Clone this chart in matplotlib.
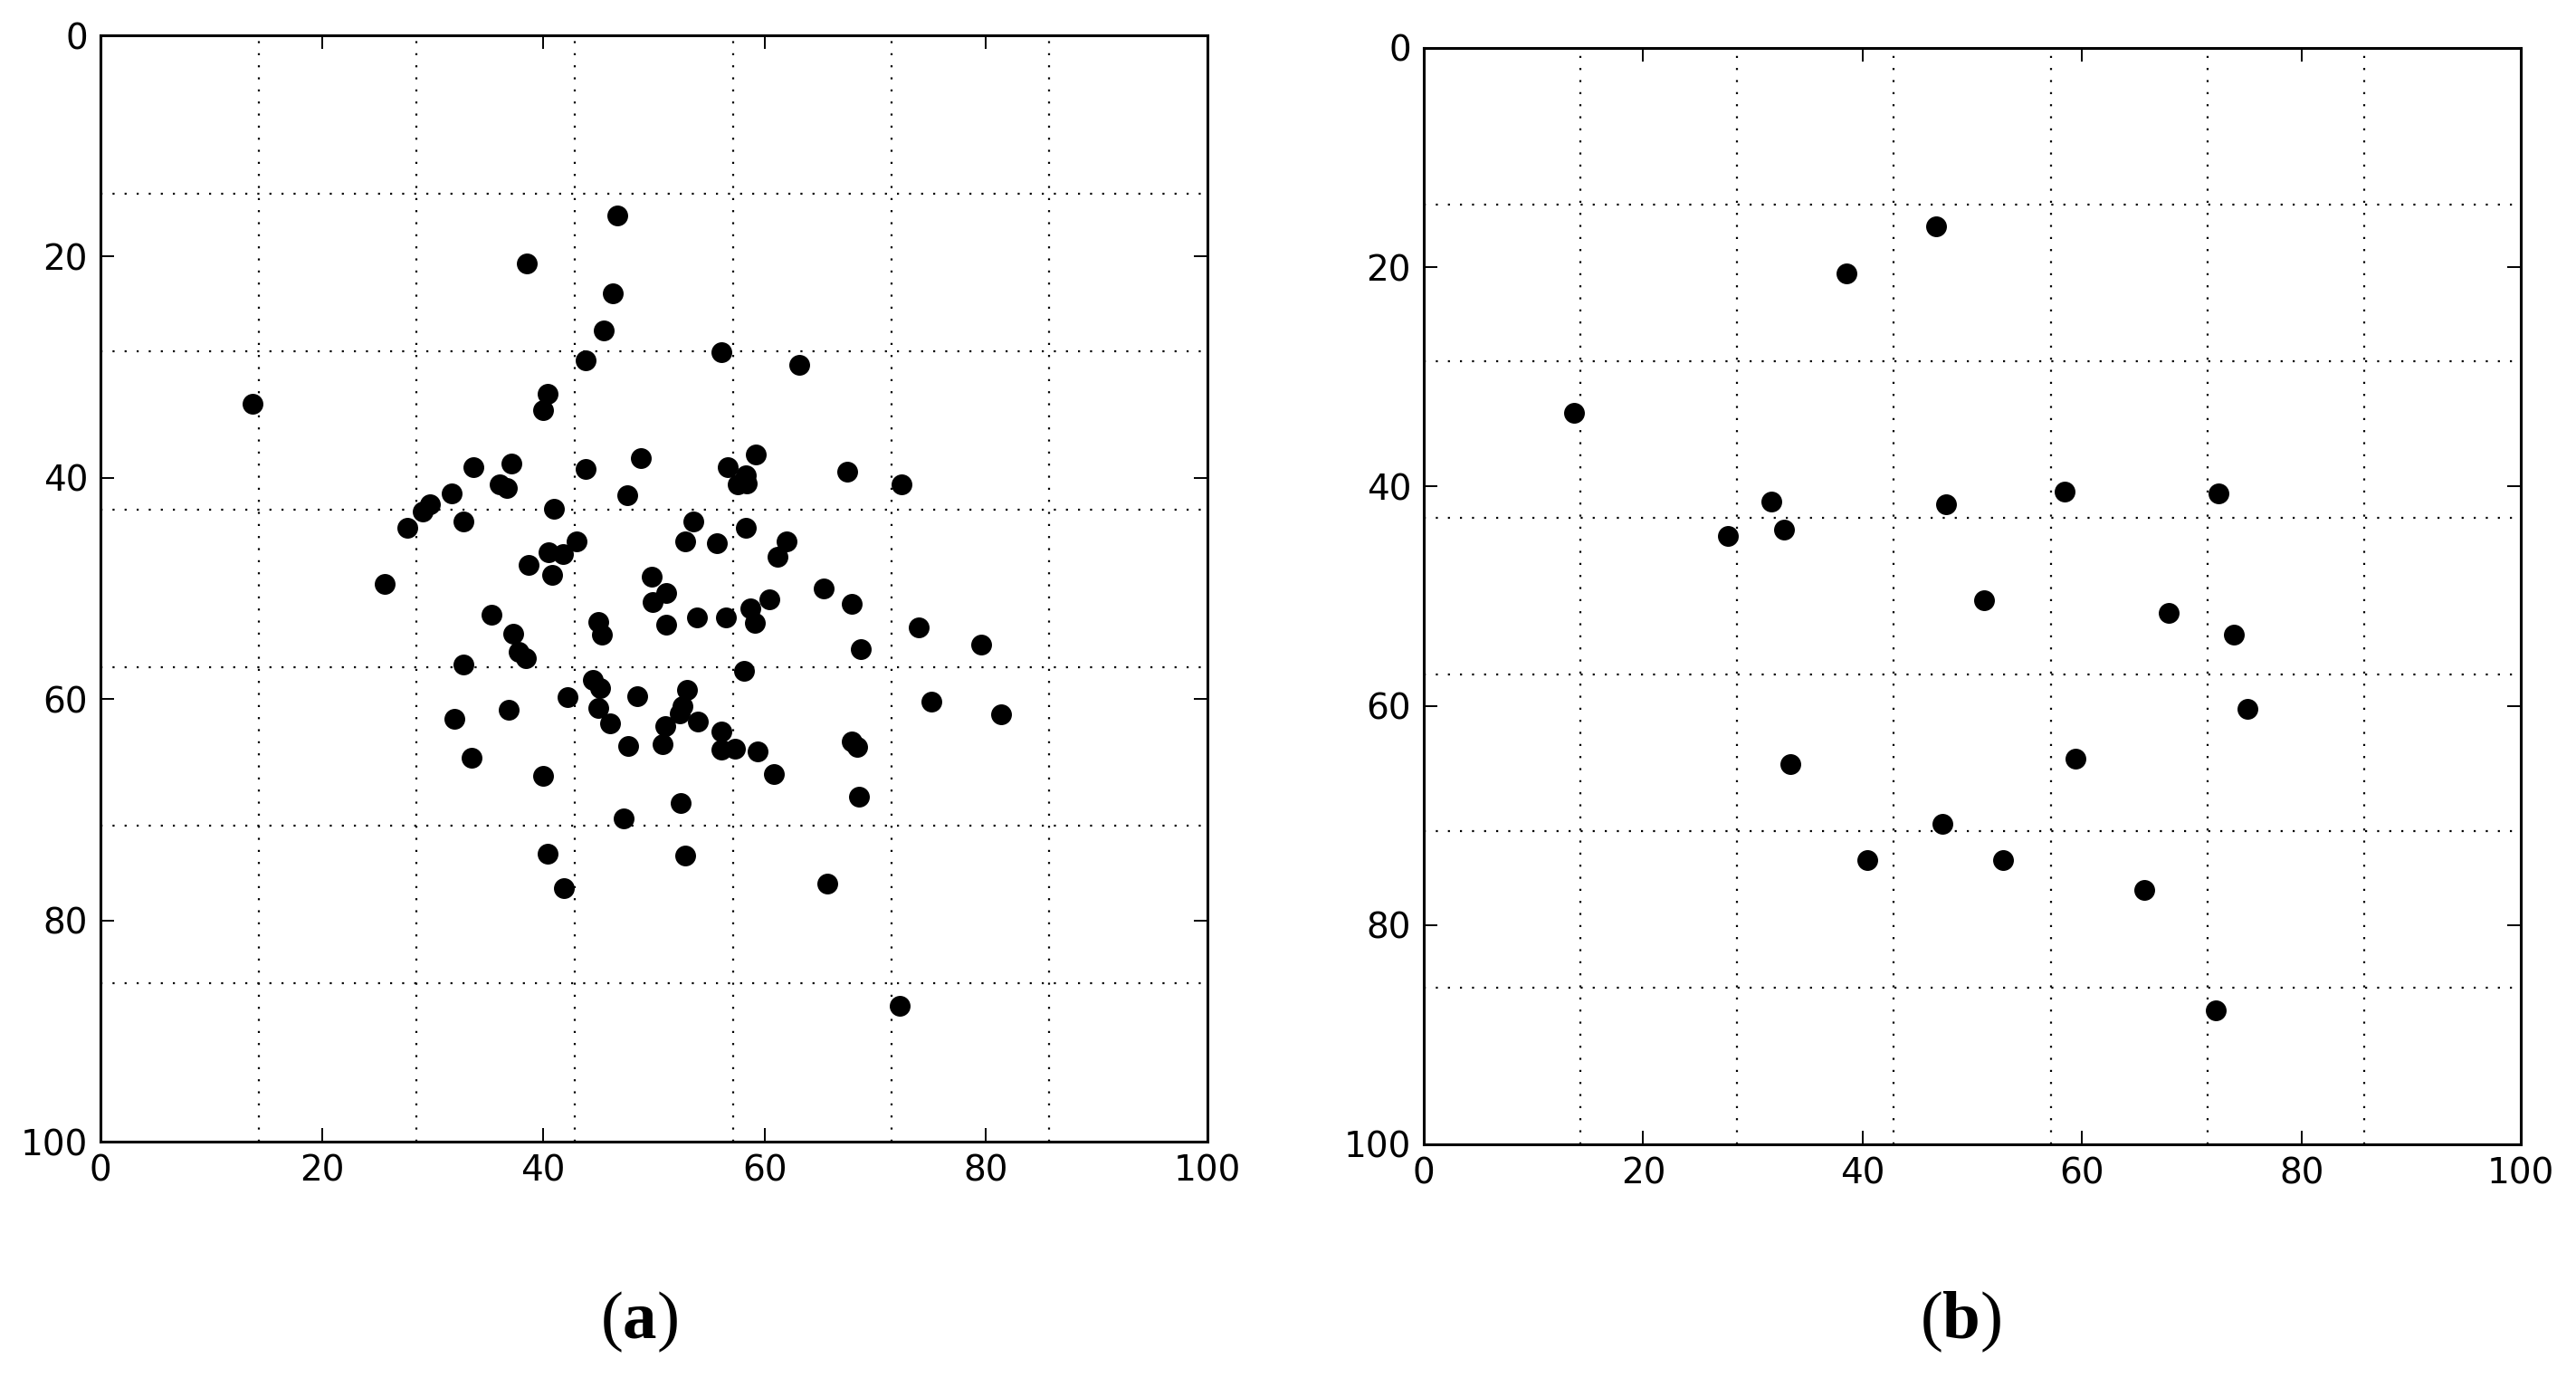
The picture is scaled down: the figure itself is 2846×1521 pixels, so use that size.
import matplotlib
matplotlib.use('Agg')
import matplotlib.pyplot as plt
from matplotlib.ticker import MultipleLocator

# (a) all points
left_x = [46.7, 38.5, 46.3, 45.5, 43.8, 40.4, 40.0, 13.7, 33.7, 37.1,
          43.8, 48.8, 36.1, 36.7, 31.7, 47.6, 29.8, 29.1, 41.0, 32.8,
          27.7, 43.0, 40.5, 41.8, 38.7, 40.8, 25.7, 49.8, 56.1, 63.1,
          59.2, 56.7, 58.3, 57.6, 58.4, 67.5, 72.4, 53.6, 52.8, 55.7,
          58.3, 62.0, 61.2, 51.1, 49.9, 51.1, 35.3, 45.0, 45.3, 37.3,
          37.8, 38.4, 32.8, 44.5, 45.1, 42.2, 48.5, 45.0, 46.0, 36.9,
          32.0, 51.0, 50.8, 47.7, 33.5, 40.0, 47.3, 40.4, 41.9, 65.3,
          67.9, 53.9, 56.5, 58.7, 60.4, 59.1, 73.9, 79.6, 68.7, 58.1,
          53.0, 52.6, 52.3, 54.0, 56.1, 56.1, 57.3, 59.4, 60.8, 67.9,
          68.4, 75.1, 81.4, 68.5, 52.4, 52.8, 65.7, 72.2]
left_y = [16.3, 20.6, 23.3, 26.7, 29.4, 32.4, 33.9, 33.3, 39.0, 38.7,
          39.2, 38.2, 40.6, 40.9, 41.4, 41.6, 42.4, 43.0, 42.8, 43.9,
          44.5, 45.7, 46.7, 46.9, 47.9, 48.8, 49.6, 48.9, 28.6, 29.8,
          37.9, 39.0, 39.8, 40.6, 40.5, 39.4, 40.6, 43.9, 45.7, 45.9,
          44.5, 45.7, 47.1, 50.4, 51.2, 53.3, 52.4, 53.0, 54.2, 54.1,
          55.7, 56.3, 56.9, 58.3, 59.0, 59.8, 59.7, 60.8, 62.2, 61.0,
          61.8, 62.4, 64.1, 64.2, 65.3, 66.9, 70.8, 74.0, 77.1, 50.0,
          51.4, 52.6, 52.6, 51.8, 51.0, 53.1, 53.5, 55.1, 55.5, 57.4,
          59.2, 60.6, 61.3, 62.0, 62.9, 64.6, 64.5, 64.7, 66.8, 63.8,
          64.3, 60.2, 61.4, 68.8, 69.4, 74.1, 76.7, 87.7]

# (b) selected points
right_x = [46.7, 38.5, 13.7, 31.7, 47.6, 27.7, 32.8, 58.4, 72.4, 51.1,
           67.9, 73.8, 75.1, 59.4, 33.4, 40.4, 47.3, 52.8, 65.7, 72.2]
right_y = [16.3, 20.6, 33.3, 41.4, 41.6, 44.5, 43.9, 40.5, 40.6, 50.4,
           51.5, 53.5, 60.3, 64.8, 65.3, 74.1, 70.8, 74.1, 76.8, 87.8]

panel_labels = ['a', 'b']

plt.rcParams['mathtext.fontset'] = 'custom'
plt.rcParams['mathtext.rm'] = 'Liberation Serif'
plt.rcParams['mathtext.bf'] = 'Liberation Serif:bold'

fig = plt.figure(figsize=(28.46, 15.21), dpi=100, facecolor='white')
ax_a = fig.add_axes([0.0390, 0.1709, 0.4297, 0.8034])
ax_b = fig.add_axes([0.5527, 0.1690, 0.4259, 0.7962])


def style_axes(ax):
    ax.set_xlim(0, 100)
    ax.set_ylim(100, 0)
    ax.xaxis.set_major_locator(MultipleLocator(20))
    ax.yaxis.set_major_locator(MultipleLocator(20))
    # grid sits at sevenths, not at the labelled ticks
    ax.xaxis.set_minor_locator(MultipleLocator(100 / 7))
    ax.yaxis.set_minor_locator(MultipleLocator(100 / 7))
    ax.tick_params(which='major', direction='in', top=True, right=True,
                   length=11, width=1.4, labelsize=28, pad=10, colors='black')
    ax.tick_params(which='minor', length=0)
    ax.grid(which='minor', color='black', linestyle=(0, (1, 5)), linewidth=1.6)
    ax.grid(which='major', visible=False)
    for spine in ax.spines.values():
        spine.set_linewidth(2.2)
    ax.set_axisbelow(True)


style_axes(ax_a)
style_axes(ax_b)

ax_a.plot(left_x, left_y, 'o', color='black', markersize=15.5, linestyle='none', zorder=3)
ax_b.plot(right_x, right_y, 'o', color='black', markersize=15.5, linestyle='none', zorder=3)

for ax, lab, xc in [(ax_a, panel_labels[0], 0.248), (ax_b, panel_labels[1], 0.761)]:
    fig.text(xc, 1 - 1460 / 1521, r'(' + r'$\mathbf{' + lab + '}$' + ')',
             family='Liberation Serif', fontsize=54, ha='center', va='center')

plt.savefig('out.png', dpi=100, facecolor='white')
